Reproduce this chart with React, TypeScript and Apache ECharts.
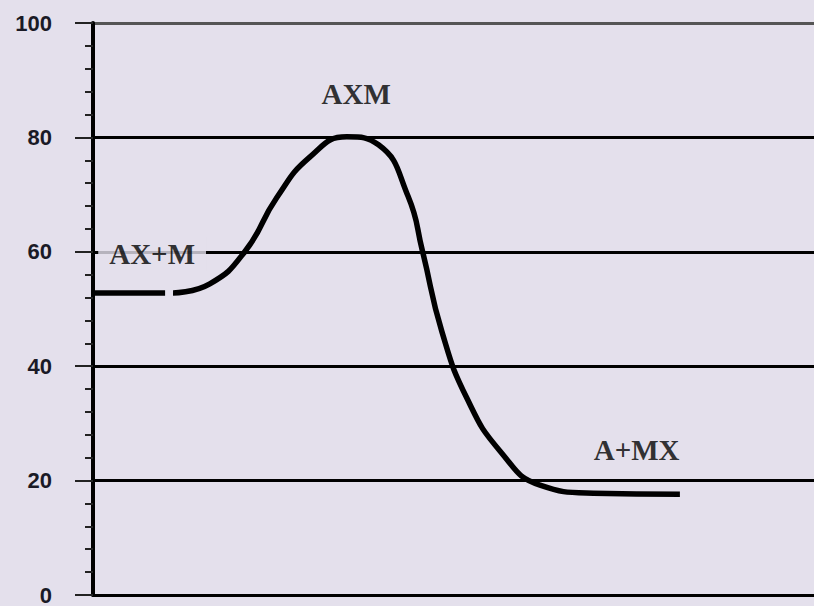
import React, { useEffect, useRef } from "react";
import * as echarts from "echarts";

const curveX = [0, 10, 10.5, 11.1, 16.2, 21.1, 25.5, 30.1, 35.2, 39.6, 43.7, 45.7, 48.4, 51.9, 56.5, 62.0, 69.4, 81.4];
const curveY: (number | string)[] = [52.8, 52.8, "-", 52.8, 54.4, 60.1, 69.5, 76.6, 80.1, 78.7, 69.7, 60.1, 46.0, 34.3, 25.1, 19.2, 17.8, 17.6];

const labelTexts = ["AX+M", "AXM", "A+MX"];
const labelX = [8.2, 36.5, 75.4];
const labelY = [59.6, 87.6, 25.4];
const labelMasked = [true, false, false];

const yTicks = [0, 20, 40, 60, 80, 100];

const BG = "#e4e0ec";

export default function App() {
  const ref = useRef<HTMLDivElement>(null);
  useEffect(() => {
    document.body.style.margin = "0";
    const chart = echarts.init(ref.current!, null, { renderer: "svg" });
    chart.setOption({
      animation: false,
      backgroundColor: BG,
      grid: { left: 93, right: 0, top: 23, bottom: 9 },
      xAxis: {
        type: "value",
        min: 0,
        max: 100,
        axisLine: { show: true, lineStyle: { color: "#000", width: 3 } },
        axisTick: { show: false },
        axisLabel: { show: false },
        splitLine: { show: false },
      },
      yAxis: {
        type: "value",
        min: yTicks[0],
        max: yTicks[yTicks.length - 1],
        interval: 20,
        axisLine: { show: true, onZero: false, lineStyle: { color: "#000", width: 4 } },
        axisTick: { show: true, length: 18, lineStyle: { color: "#222", width: 2 } },
        minorTick: { show: true, splitNumber: 5, length: 8, lineStyle: { color: "#222", width: 2 } },
        axisLabel: {
          margin: 41,
          fontFamily: "Liberation Sans, Arial, sans-serif",
          fontWeight: "bold",
          fontSize: 22,
          color: "#1a1a26",
        },
        splitLine: {
          show: true,
          lineStyle: { color: ["#000", "#000", "#000", "#000", "#000", "#555"], width: 3 },
        },
      },
      series: [
        {
          type: "line",
          data: curveX.map((x, i) => [x, curveY[i]]),
          connectNulls: false,
          smooth: 0.5,
          symbol: "none",
          lineStyle: { color: "#000", width: 5.5, join: "round", cap: "butt" },
          z: 3,
        },
        {
          type: "scatter",
          symbolSize: 0,
          z: 5,
          data: labelTexts.map((t, i) => ({
            value: [labelX[i], labelY[i]],
            name: t,
            label: labelMasked[i]
              ? { backgroundColor: BG, padding: [3, 11, 3, 11] }
              : {},
          })),
          label: {
            show: true,
            position: "inside",
            formatter: (p: any) => p.name,
            fontFamily: "Liberation Serif, Times New Roman, serif",
            fontWeight: "bold",
            fontSize: 29,
            color: "#000",
          },
        },
      ],
    });
    return () => chart.dispose();
  }, []);
  return <div ref={ref} style={{ width: 814, height: 606 }} />;
}
